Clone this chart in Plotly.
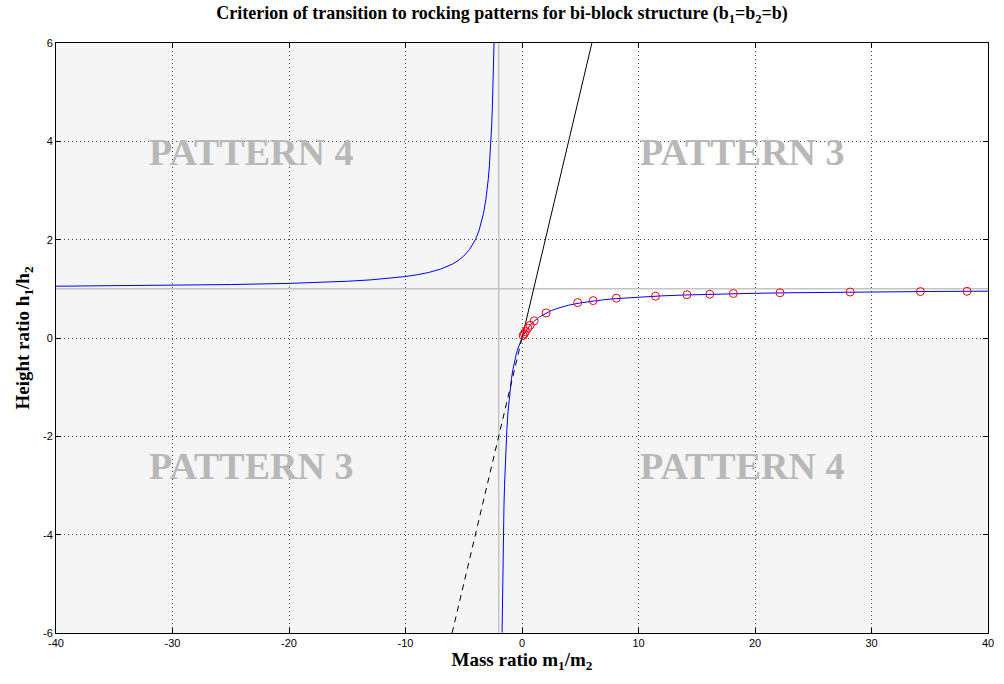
import plotly.graph_objects as go

# ---- data ----
# right branch of the criterion curve (m1/m2 , h1/h2)
curve_r_x = [-1.71, -1.68, -1.65, -1.62, -1.6, -1.55, -1.5, -1.45, -1.4, -1.3, -1.2, -1.1, -1.0,
             -0.9, -0.8, -0.7, -0.6, -0.5, -0.4, -0.3, -0.2, -0.1, 0.0, 0.1, 0.25, 0.5, 0.75, 1.0,
             1.5, 2.0, 2.5, 3.0, 4.0, 5.0, 6.0, 7.0, 8.0, 10.0, 12.0, 14.0, 16.0, 18.0, 20.0,
             23.0, 26.0, 30.0, 35.0, 40.0]
curve_r_y = [-5.99, -5.25, -4.71, -4.26, -4.0, -3.44, -3.0, -2.64, -2.33, -1.86, -1.5, -1.22, -1.0,
             -0.82, -0.667, -0.538, -0.429, -0.333, -0.25, -0.176, -0.111, -0.053, 0.0, 0.048, 0.111,
             0.2, 0.273, 0.333, 0.429, 0.5, 0.556, 0.6, 0.667, 0.714, 0.75, 0.778, 0.8, 0.833,
             0.857, 0.875, 0.889, 0.9, 0.909, 0.92, 0.929, 0.938, 0.946, 0.952]
# left branch of the criterion curve
curve_l_x = [-40.0, -35.0, -30.0, -25.0, -20.0, -17.0, -15.0, -13.0, -11.0, -10.0, -9.0, -8.0,
             -7.0, -6.0, -5.5, -5.0, -4.5, -4.0, -3.7, -3.5, -3.3, -3.1, -3.0, -2.9, -2.8, -2.7,
             -2.65, -2.6, -2.55, -2.5, -2.47, -2.44, -2.42, -2.4]
curve_l_y = [1.053, 1.061, 1.071, 1.087, 1.111, 1.133, 1.154, 1.182, 1.222, 1.25, 1.286, 1.333,
             1.4, 1.5, 1.571, 1.667, 1.8, 2.0, 2.176, 2.333, 2.538, 2.818, 3.0, 3.222, 3.5, 3.857,
             4.077, 4.333, 4.636, 5.0, 5.255, 5.545, 5.762, 6.0]
# red circles (samples)
pts_x = [0.1, 0.2, 0.3, 0.5, 0.7, 1.05, 2.07, 4.78, 6.11, 8.1, 11.46, 14.16, 16.12, 18.14,
         22.15, 28.17, 34.2, 38.2]
pts_y = [0.05, 0.09, 0.13, 0.2, 0.26, 0.35, 0.51, 0.72, 0.76, 0.81, 0.85, 0.88, 0.89, 0.905,
         0.92, 0.935, 0.945, 0.95]
# diagonal line h1/h2 = m1/m2
diag_solid_x = [0.0, 6.0]
diag_solid_y = [0.0, 6.0]
diag_dash_x = [-6.0, 0.0]
diag_dash_y = [-6.0, 0.0]
# asymptotes
asym_x = -2.0
asym_y = 1.0

x_ticks = [-40, -30, -20, -10, 0, 10, 20, 30, 40]
x_tick_text = ["-40", "-30", "-20", "-10", "0", "10", "20", "30", "40"]
y_ticks = [-6, -4, -2, 0, 2, 4, 6]
y_tick_text = ["-6", "-4", "-2", "0", "2", "4", "6"]
x_range = [-40, 40]
y_range = [-6, 6]

labels = ["PATTERN 4", "PATTERN 3", "PATTERN 3", "PATTERN 4"]
label_x = [-23.3, 18.9, -23.3, 18.9]
label_y = [3.78, 3.78, -2.6, -2.6]

fig = go.Figure()

# shaded regions (all but upper-right quadrant)
gray = "#f5f5f5"
fig.add_shape(type="rect", x0=x_range[0], x1=0, y0=y_range[0], y1=y_range[1],
              fillcolor=gray, line_width=0, layer="below")
fig.add_shape(type="rect", x0=0, x1=x_range[1], y0=y_range[0], y1=0,
              fillcolor=gray, line_width=0, layer="below")
# asymptote lines
fig.add_shape(type="line", x0=asym_x, x1=asym_x, y0=y_range[0], y1=y_range[1],
              line=dict(color="#c4c4c4", width=1.5), layer="below")
fig.add_shape(type="line", x0=x_range[0], x1=x_range[1], y0=asym_y, y1=asym_y,
              line=dict(color="#c4c4c4", width=1.5), layer="below")

for t, lx, ly in zip(labels, label_x, label_y):
    fig.add_annotation(x=lx, y=ly, text="<b>" + t + "</b>", showarrow=False,
                       font=dict(family="Liberation Serif", size=38, color="#b8b8b8"))

fig.add_trace(go.Scatter(x=curve_l_x, y=curve_l_y, mode="lines", line=dict(color="#0000ff", width=1),
                         showlegend=False))
fig.add_trace(go.Scatter(x=curve_r_x, y=curve_r_y, mode="lines", line=dict(color="#0000ff", width=1),
                         showlegend=False))
fig.add_trace(go.Scatter(x=diag_solid_x, y=diag_solid_y, mode="lines",
                         line=dict(color="black", width=1), showlegend=False))
fig.add_trace(go.Scatter(x=diag_dash_x, y=diag_dash_y, mode="lines",
                         line=dict(color="black", width=1, dash="6px,5px"), showlegend=False))
fig.add_trace(go.Scatter(x=pts_x, y=pts_y, mode="markers",
                         marker=dict(symbol="circle-open", size=8, color="red", line=dict(width=1)),
                         showlegend=False))

axis_common = dict(showline=True, linecolor="black", linewidth=1, mirror="ticks",
                   ticks="inside", ticklen=5, tickcolor="black",
                   showgrid=True, gridcolor="#444444", griddash="1px,3px", gridwidth=1,
                   zeroline=False, tickfont=dict(family="Liberation Sans", size=11, color="black"))

fig.update_xaxes(range=x_range, tickvals=x_ticks, ticktext=x_tick_text, **axis_common,
                 title=dict(text="<b>Mass ratio m<sub>1</sub>/m<sub>2</sub></b>",
                            font=dict(family="Liberation Serif", size=19, color="black"), standoff=4))
fig.update_yaxes(range=y_range, tickvals=y_ticks, ticktext=y_tick_text, **axis_common,
                 title=dict(text="<b>Height ratio h<sub>1</sub>/h<sub>2</sub></b>",
                            font=dict(family="Liberation Serif", size=19, color="black"), standoff=8))

fig.update_layout(
    width=1004, height=684,
    margin=dict(l=56, r=10, t=43, b=51),
    paper_bgcolor="white", plot_bgcolor="white",
    title=dict(text="<b>Criterion of transition to rocking patterns for bi-block structure (b<sub>1</sub>=b<sub>2</sub>=b)</b>",
               x=0.5, xanchor="center", y=0.99, yanchor="top",
               font=dict(family="Liberation Serif", size=18, color="black")),
)

fig.write_html("out.html")
